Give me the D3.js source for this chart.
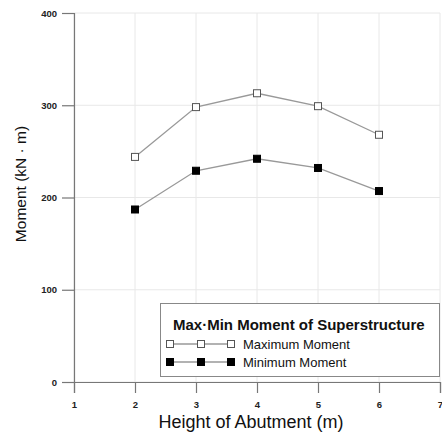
<!DOCTYPE html>
<html>
<head>
<meta charset="utf-8">
<script src="https://cdn.jsdelivr.net/npm/d3@7"></script>
<style>
  html, body { margin: 0; padding: 0; background: #fff; }
  svg { display: block; }
</style>
</head>
<body>
<svg id="chart" width="442" height="434"></svg>
<script>
// Abutment heights (m)
const heights = [2, 3, 4, 5, 6];
// Superstructure moments (kN·m)
const maxMoment = [244, 298, 313, 299, 268];
const minMoment = [187, 229, 242, 232, 207];
// Axis ticks
const xTicks = [1, 2, 3, 4, 5, 6, 7];
const yTicks = [0, 100, 200, 300, 400];
const seriesNames = ["Maximum Moment", "Minimum Moment"];
const legendTitle = "Max·Min Moment of Superstructure";

const svg = d3.select("#chart");
const plotLeft = 74, plotRight = 440, plotTop = 13, plotBottom = 382;

const x = d3.scaleLinear().domain([1, 7]).range([plotLeft, plotRight]);
const y = d3.scaleLinear().domain([0, 400]).range([plotBottom, plotTop]);

const font = "'Liberation Sans', Arial, Helvetica, sans-serif";

// Grid
const grid = svg.append("g");
grid.selectAll(".gx").data(xTicks).join("line")
  .attr("x1", d => x(d)).attr("x2", d => x(d))
  .attr("y1", plotTop).attr("y2", plotBottom)
  .attr("stroke", "#e8e8e8").attr("stroke-width", 1);
grid.selectAll(".gy").data(yTicks).join("line")
  .attr("x1", plotLeft).attr("x2", plotRight)
  .attr("y1", d => y(d)).attr("y2", d => y(d))
  .attr("stroke", "#e8e8e8").attr("stroke-width", 1);

// Axes
const xAxis = d3.axisBottom(x).tickValues(xTicks).tickFormat(d3.format("d"))
  .tickSizeOuter(0).tickSize(11).tickPadding(8);
const yAxis = d3.axisLeft(y).tickValues(yTicks).tickFormat(d3.format("d"))
  .tickSizeOuter(0).tickSize(12).tickPadding(5);

const gx = svg.append("g").attr("transform", `translate(0,${plotBottom})`).call(xAxis);
const gy = svg.append("g").attr("transform", `translate(${plotLeft},0)`).call(yAxis);
[gx, gy].forEach(g => {
  g.select(".domain").attr("stroke", "#777").attr("stroke-width", 1.2);
  g.selectAll(".tick line").attr("stroke", "#777").attr("stroke-width", 1.2);
  g.selectAll(".tick text")
    .attr("fill", "#222")
    .style("font-family", font)
    .style("font-size", "9.5px")
    .style("font-weight", "bold");
});

// Axis titles
svg.append("text")
  .attr("x", 251).attr("y", 428)
  .attr("text-anchor", "middle")
  .style("font-family", font).style("font-size", "18px")
  .attr("fill", "#111")
  .text("Height of Abutment (m)");

svg.append("text")
  .attr("transform", "translate(26,184) rotate(-90)")
  .attr("text-anchor", "middle")
  .style("font-family", font).style("font-size", "15.5px")
  .attr("fill", "#111")
  .text("Moment (kN · m)");

// Series
const line = d3.line().x(d => x(d[0])).y(d => y(d[1]));
const series = [
  { name: seriesNames[0], values: maxMoment, fill: "#fff", stroke: "#555" },
  { name: seriesNames[1], values: minMoment, fill: "#000", stroke: "#000" }
];
const ms = 7;

series.forEach(s => {
  const pts = heights.map((h, i) => [h, s.values[i]]);
  svg.append("path").datum(pts)
    .attr("d", line)
    .attr("fill", "none")
    .attr("stroke", "#999").attr("stroke-width", 1.3);
  svg.append("g").selectAll("rect").data(pts).join("rect")
    .attr("x", d => x(d[0]) - ms / 2).attr("y", d => y(d[1]) - ms / 2)
    .attr("width", ms).attr("height", ms)
    .attr("fill", s.fill).attr("stroke", s.stroke).attr("stroke-width", 1);
});

// Legend
const lg = svg.append("g");
lg.append("rect")
  .attr("x", 160.5).attr("y", 303.5).attr("width", 279).attr("height", 73)
  .attr("fill", "#fff").attr("stroke", "#888").attr("stroke-width", 1);
lg.append("text")
  .attr("x", 173).attr("y", 330)
  .style("font-family", font).style("font-size", "15px").style("font-weight", "bold")
  .attr("fill", "#111")
  .text(legendTitle);
const symX = [170, 201, 231];
series.forEach((s, i) => {
  const cy = 344 + i * 18;
  lg.append("line")
    .attr("x1", symX[0]).attr("x2", symX[2]).attr("y1", cy).attr("y2", cy)
    .attr("stroke", "#999").attr("stroke-width", 1.3);
  lg.selectAll(null).data(symX).join("rect")
    .attr("x", d => d - ms / 2).attr("y", cy - ms / 2)
    .attr("width", ms).attr("height", ms)
    .attr("fill", s.fill).attr("stroke", s.stroke);
  lg.append("text")
    .attr("x", 243).attr("y", cy + 5)
    .style("font-family", font).style("font-size", "13px")
    .attr("fill", "#111")
    .text(s.name);
});
</script>
</body>
</html>
